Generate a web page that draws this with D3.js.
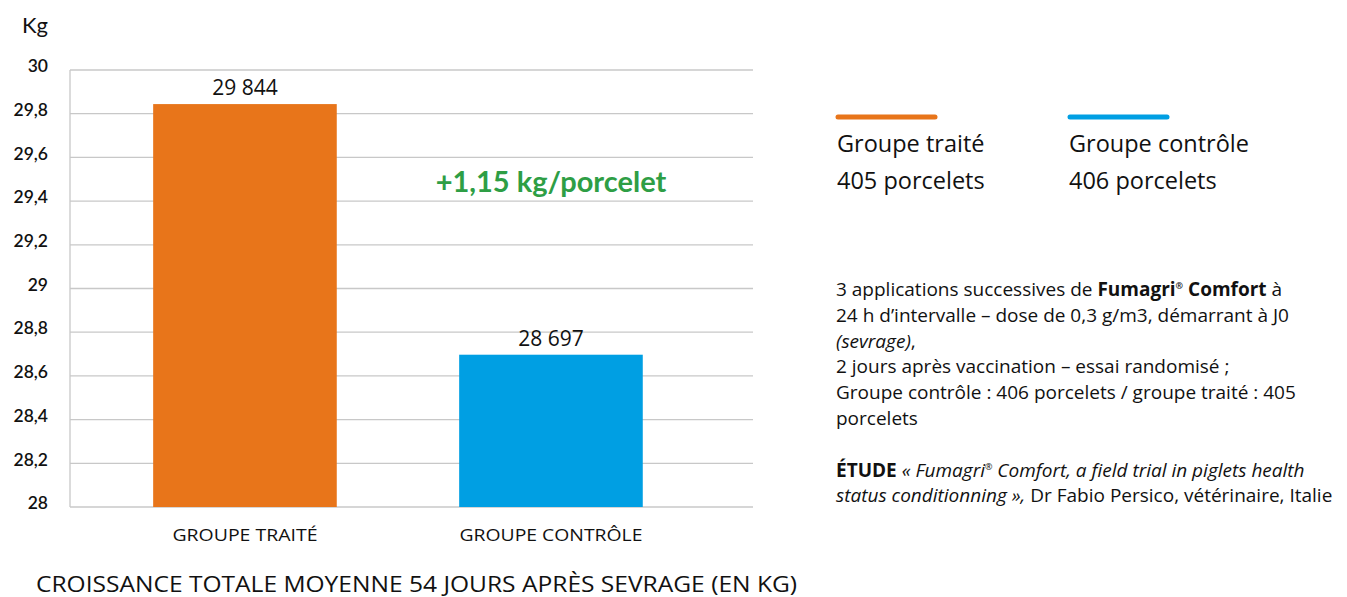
<!DOCTYPE html>
<html>
<head>
<meta charset="utf-8">
<script src="https://cdn.jsdelivr.net/npm/d3@7"></script>
<style>
  body { margin: 0; background: #fff; }
  svg { font-family: "Open Sans", Lato, sans-serif; }
</style>
</head>
<body>
<svg width="1347" height="597"></svg>
<script>
// data
const groups = ["GROUPE TRAITÉ", "GROUPE CONTRÔLE"];
const values = [29.844, 28.697];
const valueLabels = ["29 844", "28 697"];
const colors = ["#E8751A", "#009FE3"];
const yTicks = [28, 28.2, 28.4, 28.6, 28.8, 29, 29.2, 29.4, 29.6, 29.8, 30];
const legendNames = ["Groupe traité", "Groupe contrôle"];
const legendCounts = ["405 porcelets", "406 porcelets"];

const svg = d3.select("svg");

const x = d3.scaleBand().domain(groups).range([70, 753])
  .paddingInner(0.4).paddingOuter(0.316).align(0.43);
const y = d3.scaleLinear().domain([28, 30]).range([507, 70]);

// gridlines
svg.append("g").selectAll("line").data(yTicks).enter().append("line")
  .attr("x1", 70).attr("x2", 753)
  .attr("y1", d => y(d)).attr("y2", d => y(d))
  .attr("stroke", "#c8c8c8").attr("stroke-width", 1.3);
svg.append("line").attr("x1", 70).attr("x2", 70).attr("y1", y(30)).attr("y2", y(28))
  .attr("stroke", "#c8c8c8").attr("stroke-width", 1.3);

// y labels
const yAxis = d3.axisLeft(y).tickValues(yTicks).tickSize(0).tickPadding(0)
  .tickFormat(d => d3.format("~g")(d).replace(".", ","));
const ya = svg.append("g").attr("transform", "translate(48,0)").call(yAxis);
ya.select(".domain").remove();
ya.selectAll("text").attr("font-size", 17.5).attr("font-family", "Lato, sans-serif")
  .attr("font-weight", 600).attr("fill", "#111").attr("dy", "0.1em");

svg.append("text").attr("x", 48).attr("y", 33).attr("text-anchor", "end")
  .attr("font-family", "Lato, sans-serif")
  .attr("font-size", 22).attr("fill", "#111").text("Kg");

// bars
svg.selectAll("rect.bar").data(values).enter().append("rect")
  .attr("class", "bar")
  .attr("x", (d, i) => x(groups[i]))
  .attr("width", x.bandwidth())
  .attr("y", d => y(d))
  .attr("height", d => y(28) - y(d))
  .attr("fill", (d, i) => colors[i]);

svg.selectAll("text.val").data(values).enter().append("text")
  .attr("class", "val")
  .attr("x", (d, i) => x(groups[i]) + x.bandwidth() / 2)
  .attr("y", d => y(d) - 9)
  .attr("text-anchor", "middle").attr("font-size", 21).attr("fill", "#111")
  .text((d, i) => valueLabels[i]);

// x labels
svg.selectAll("text.xl").data(groups).enter().append("text")
  .attr("class", "xl")
  .attr("x", d => x(d) + x.bandwidth() / 2)
  .attr("y", 541)
  .attr("text-anchor", "middle").attr("font-size", 16).attr("fill", "#111")
  .attr("textLength", (d, i) => i === 0 ? 145 : 183).attr("lengthAdjust", "spacingAndGlyphs")
  .text(d => d);

svg.append("text").attr("x", 36).attr("y", 592).attr("font-size", 22).attr("fill", "#111")
  .attr("textLength", 761).attr("lengthAdjust", "spacingAndGlyphs")
  .text("CROISSANCE TOTALE MOYENNE 54 JOURS APRÈS SEVRAGE (EN KG)");

// difference annotation
svg.append("text").attr("x", x(groups[1]) + x.bandwidth() / 2).attr("y", 192)
  .attr("text-anchor", "middle").attr("font-size", 29).attr("font-weight", 700)
  .attr("font-family", "Lato, sans-serif")
  .attr("fill", "#2E9E45").text("+1,15 kg/porcelet");

// legend
const lx = [836, 1068];
legendNames.forEach((n, i) => {
  svg.append("line").attr("x1", lx[i] + 2).attr("x2", lx[i] + 99).attr("y1", 117).attr("y2", 117)
    .attr("stroke", colors[i]).attr("stroke-width", 5).attr("stroke-linecap", "round");
  svg.append("text").attr("x", lx[i] + 1).attr("y", 152).attr("font-size", 23.5).attr("fill", "#111").text(n);
  svg.append("text").attr("x", lx[i] + 1).attr("y", 189).attr("font-size", 23.5).attr("fill", "#111").text(legendCounts[i]);
});

// note block
const note = svg.append("text").attr("x", 836).attr("font-size", 19).attr("fill", "#111");
const lines = [
  [["3 applications successives de ", ""], ["Fumagri", "b"], ["®", "bsup"], [" Comfort", "b"], [" à", ""]],
  [["24 h d’intervalle – dose de 0,3 g/m3, démarrant à J0", ""]],
  [["(sevrage)", "i"], [",", ""]],
  [["2 jours après vaccination – essai randomisé ;", ""]],
  [["Groupe contrôle : 406 porcelets / groupe traité : 405", ""]],
  [["porcelets", ""]],
  null,
  [["ÉTUDE", "b"], [" « Fumagri", "i"], ["®", "isup"], [" Comfort, a field trial in piglets health", "i"]],
  [["status conditionning »,", "i"], [" Dr Fabio Persico, vétérinaire, Italie", ""]]
];
let ly = 296;
lines.forEach(l => {
  if (l) {
    l.forEach((seg, j) => {
      const t = note.append("tspan").text(seg[0]);
      if (j === 0) t.attr("x", 836).attr("y", ly);
      if (seg[1].includes("b")) t.attr("font-weight", 700);
      if (seg[1].startsWith("i")) t.attr("font-style", "italic");
      if (seg[1].includes("sup")) t.attr("font-size", 9).attr("dy", -7);
      else if (j > 0 && l[j - 1][1].includes("sup")) t.attr("dy", 7);
    });
  }
  ly += 25.8;
});
</script>
</body>
</html>
